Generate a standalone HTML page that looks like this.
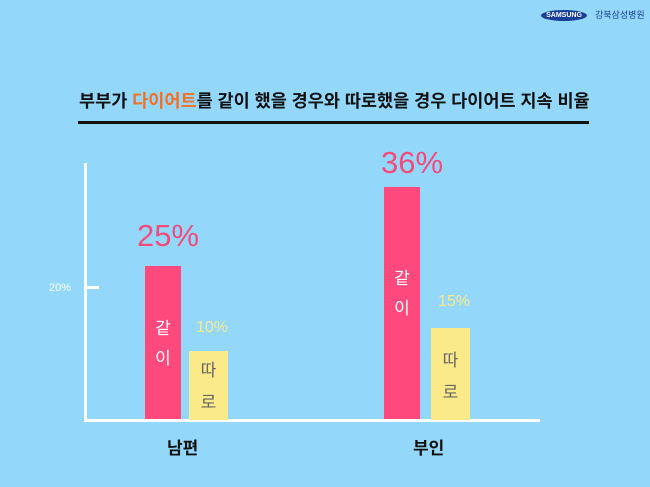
<!DOCTYPE html>
<html><head><meta charset="utf-8"><style>
body{margin:0}
#c{position:relative;width:650px;height:487px;background:#93d8fb;overflow:hidden;font-family:"Liberation Sans","Noto Sans CJK KR",sans-serif}
.a{position:absolute}
.t{white-space:nowrap}
</style></head><body><div id="c">
<div class="a" style="left:541px;top:10px;width:46px;height:11px;background:#1a3f9a;border-radius:50%;"></div>
<div class="a t" style="left:543px;top:10px;width:42px;font-size:7px;color:#fff;font-weight:bold;text-align:center;line-height:11px">SAMSUNG</div>
<div class="a t" style="left:595px;top:9px;font-size:9px;color:#1a3f9a;line-height:12px">강북삼성병원</div>
<div class="a t" style="left:79px;top:89px;font-size:17.5px;font-weight:bold;color:#111;line-height:24px">부부가 <span style="color:#f36f21">다이어트</span>를 같이 했을 경우와 따로했을 경우 다이어트 지속 비율</div>
<div class="a" style="left:78px;top:121px;width:511px;height:3px;background:#111"></div>
<div class="a" style="left:84px;top:163px;width:3px;height:259px;background:#fff"></div>
<div class="a" style="left:84px;top:419px;width:456px;height:3px;background:#fff"></div>
<div class="a" style="left:86px;top:286px;width:13px;height:3px;background:#fff"></div>
<div class="a t" style="left:49px;top:281px;font-size:11px;color:#fff;line-height:14px">20%</div>
<div class="a" style="left:145px;top:266px;width:36px;height:153px;background:#fd497c"></div>
<div class="a" style="left:189px;top:351px;width:39px;height:69px;background:#fbea8a"></div>
<div class="a" style="left:384px;top:187px;width:36px;height:232px;background:#fd497c"></div>
<div class="a" style="left:431px;top:328px;width:39px;height:92px;background:#fbea8a"></div>
<div class="a t" style="left:137px;top:216px;font-size:31px;color:#f34b7b;line-height:40px">25%</div>
<div class="a t" style="left:381px;top:143px;font-size:31px;color:#f34b7b;line-height:40px">36%</div>
<div class="a t" style="left:196px;top:318px;font-size:16px;color:#f6e98a;line-height:20px">10%</div>
<div class="a t" style="left:438px;top:292px;font-size:16px;color:#f6e98a;line-height:20px">15%</div>
<div class="a t" style="left:145px;top:314px;width:36px;text-align:center;font-size:17px;color:#fff;line-height:30px">같<br>이</div>
<div class="a t" style="left:384px;top:264px;width:36px;text-align:center;font-size:17px;color:#fff;line-height:30px">같<br>이</div>
<div class="a t" style="left:189px;top:355px;width:39px;text-align:center;font-size:17px;color:#666;line-height:32px">따<br>로</div>
<div class="a t" style="left:431px;top:345px;width:39px;text-align:center;font-size:17px;color:#666;line-height:32px">따<br>로</div>
<div class="a t" style="left:167px;top:438px;font-size:17px;font-weight:bold;color:#111;line-height:22px">남편</div>
<div class="a t" style="left:413px;top:438px;font-size:17px;font-weight:bold;color:#111;line-height:22px">부인</div>
</div></body></html>
